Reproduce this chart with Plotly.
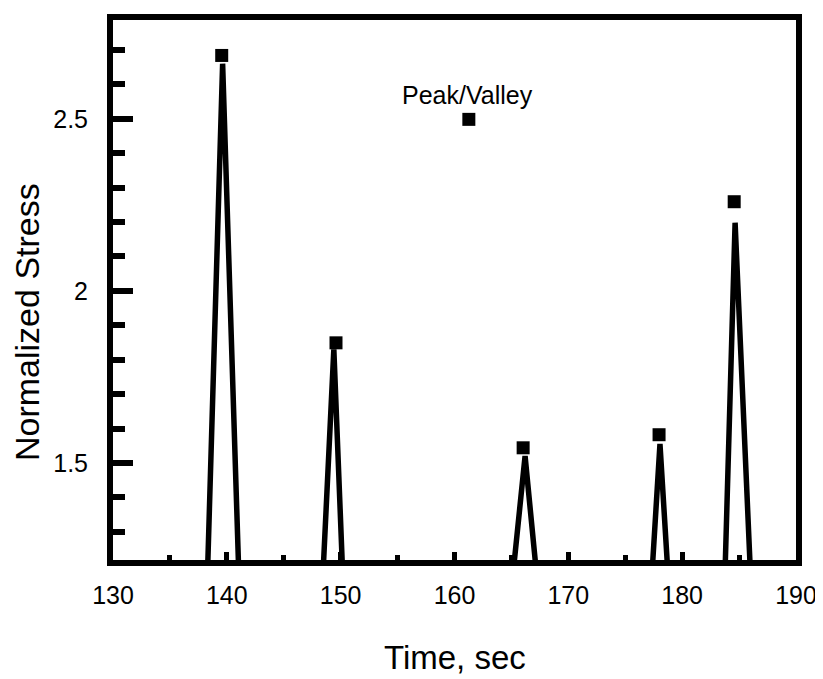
import plotly.graph_objects as go

# ---- data ----
time_s = [130, 138.32, 139.63, 141.03, 148.48, 149.40, 150.15, 165.21, 166.20, 167.14,
          177.39, 178.05, 178.71, 183.78, 184.65, 185.97, 190]
stress = [1.20, 1.20, 2.66, 1.20, 1.20, 1.83, 1.20, 1.20, 1.52, 1.20,
          1.20, 1.555, 1.20, 1.20, 2.198, 1.20, 1.20]

peak_time = [139.55, 149.59, 166.03, 177.97, 184.57]
peak_stress = [2.684, 1.849, 1.544, 1.582, 2.259]

x_tick_vals = [130, 140, 150, 160, 170, 180, 190]
x_tick_text = ["130", "140", "150", "160", "170", "180", "190"]
y_tick_vals = [1.5, 2.0, 2.5]
y_tick_text = ["1.5", "2", "2.5"]

FONT = "Liberation Sans, Arial, Helvetica, sans-serif"

fig = go.Figure()
fig.add_trace(go.Scatter(
    x=time_s, y=stress, mode="lines",
    line=dict(color="black", width=5.5),
    name="Stress", showlegend=False,
))
fig.add_trace(go.Scatter(
    x=peak_time, y=peak_stress, mode="markers",
    marker=dict(symbol="square", size=13, color="black"),
    name="Peak/Valley", showlegend=False,
))

axis_common = dict(
    showline=True, linecolor="black", linewidth=6, mirror=True,
    showgrid=False, zeroline=False,
    ticks="inside", tickcolor="black",
    tickfont=dict(family=FONT, size=25, color="black"),
)

fig.update_xaxes(
    range=[130, 190],
    tickmode="array", tickvals=x_tick_vals, ticktext=x_tick_text,
    ticklen=8, tickwidth=5, ticklabelstandoff=8,
    minor=dict(dtick=5, tick0=130, ticks="inside", ticklen=5, tickwidth=5, tickcolor="black"),
    **axis_common,
)
fig.update_yaxes(
    range=[1.218, 2.787],
    tickmode="array", tickvals=y_tick_vals, ticktext=y_tick_text,
    ticklen=20, tickwidth=6, ticklabelstandoff=14,
    minor=dict(dtick=0.1, tick0=1.5, ticks="inside", ticklen=12, tickwidth=6, tickcolor="black"),
    **axis_common,
)

# page body has an 8 px margin, so the figure is sized to fit the 823x679 window
fig.update_layout(
    width=815, height=671,
    margin=dict(l=105, r=26, t=6, b=119),
    plot_bgcolor="white", paper_bgcolor="white",
    font=dict(family=FONT, color="black"),
    showlegend=False,
    annotations=[
        dict(text="Time, sec", xref="paper", yref="paper", x=0.5, y=0,
             xanchor="center", yanchor="middle", yshift=-97, showarrow=False,
             font=dict(family=FONT, size=33, color="black")),
        dict(text="Normalized Stress", xref="paper", yref="paper", x=0, y=0.5,
             xanchor="center", yanchor="middle", xshift=-86, yshift=-32,
             textangle=-90, showarrow=False,
             font=dict(family=FONT, size=34, color="black")),
        dict(text="Peak/Valley", xref="paper", yref="paper", x=0.519, y=0.862,
             xanchor="center", yanchor="middle", showarrow=False,
             font=dict(family=FONT, size=25, color="black")),
    ],
    shapes=[
        dict(type="rect", xref="paper", yref="paper",
             xsizemode="pixel", ysizemode="pixel",
             xanchor=0.521, yanchor=0.816,
             x0=-6.5, x1=6.5, y0=-6.5, y1=6.5,
             fillcolor="black", line=dict(width=0)),
    ],
)

fig.write_html("out.html")
